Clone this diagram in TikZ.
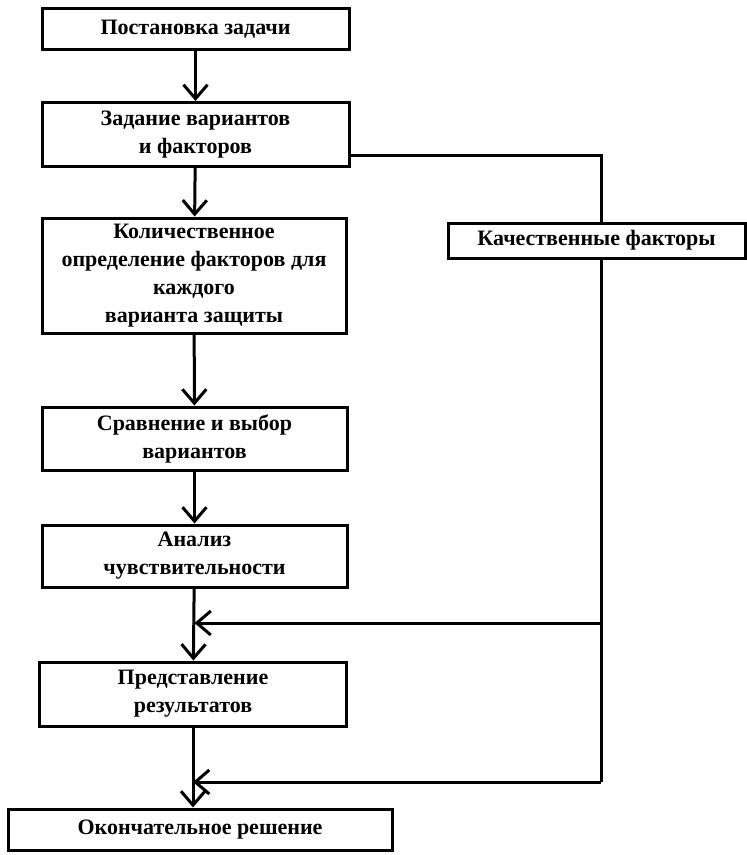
\documentclass[tikz,border=0pt]{standalone}
\usepackage{fontspec}
\setmainfont{Liberation Serif}
\usetikzlibrary{arrows.meta, positioning}

\begin{document}
\begin{tikzpicture}[x=1pt, y=-1pt, line width=3pt,
    >={Straight Barb[length=14pt, width=24pt]},
    box/.style={draw, rectangle, align=center, inner sep=0pt,
      font=\fontsize{22}{28}\selectfont\bfseries}]
  \useasboundingbox (0,0) rectangle (747,855);
  % Main column
  \node[box, minimum width=307pt, minimum height=41pt] (task) at (195.5,29) {Постановка задачи};
  \node[box, minimum width=307pt, minimum height=64pt] (vars) at (195.5,134.5) {Задание вариантов\\и факторов};
  \node[box, minimum width=304pt, minimum height=115pt] (quant) at (194,275.5)
    {Количественное\\определение факторов для\\каждого\\варианта защиты};
  \node[box, minimum width=305pt, minimum height=63pt] (cmp) at (194.5,438.5) {Сравнение и выбор\\вариантов};
  \node[box, minimum width=305pt, minimum height=62pt] (sens) at (194.5,556) {Анализ\\чувствительности};
  \node[box, minimum width=307pt, minimum height=64pt] (pres) at (193,694) {Представление\\результатов};
  \node[box, minimum width=384pt, minimum height=41pt] (final) at (200,829.5) {Окончательное решение};
  % Side branch
  \node[box, minimum width=297pt, minimum height=35pt] (qual) at (596.5,240.5) {Качественные факторы};
  % Main arrows
  \draw[->] (task) -- (vars);
  \draw[->] (vars) -- (quant);
  \draw[->] (quant) -- (cmp);
  \draw[->] (cmp) -- (sens);
  \draw[->] (sens) -- (pres);
  \draw[->] (pres.south) -- (pres.south |- final.north);
  % Qualitative factors loop
  \coordinate (turnA) at (601,155);
  \coordinate (joinA) at (601,623);
  \coordinate (joinB) at (601,782);
  \draw (vars.east |- turnA) -- (turnA) -- (turnA |- qual.north);
  \draw (turnA |- qual.south) -- (joinB);
  \draw[->] (joinA) -- (sens.south |- joinA);
  \draw[->] (joinB) -- (pres.south |- joinB);
\end{tikzpicture}
\end{document}
